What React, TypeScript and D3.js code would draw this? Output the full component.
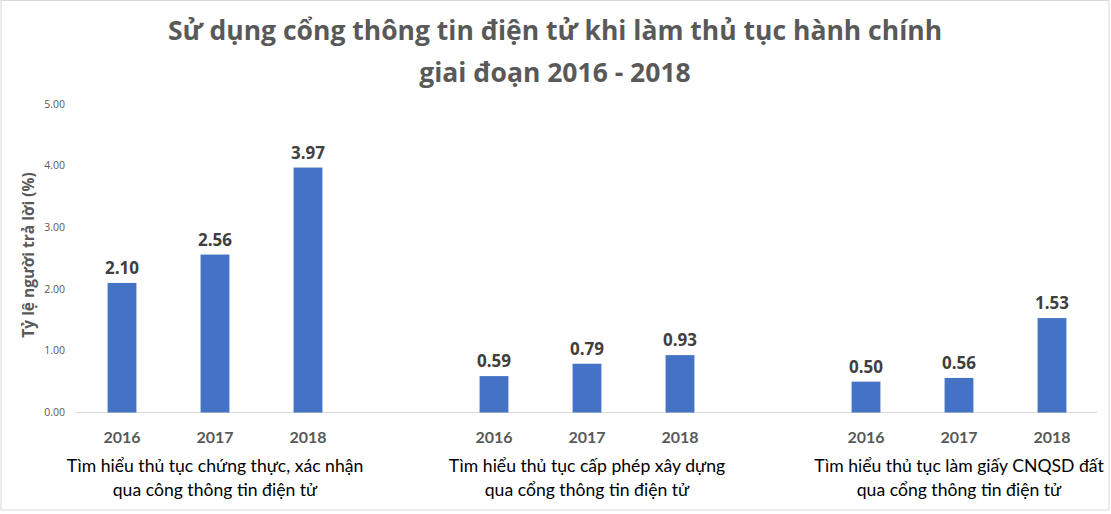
import React from "react";
import * as d3 from "d3";

const titleLines = [
  "Sử dụng cổng thông tin điện tử khi làm thủ tục hành chính",
  "giai đoạn 2016 - 2018",
];
const years = ["2016", "2017", "2018"];
const groupLabels = [
  ["Tìm hiểu thủ tục chứng thực, xác nhận", "qua công thông tin điện tử"],
  ["Tìm hiểu thủ tục cấp phép xây dựng", "qua cổng thông tin điện tử"],
  ["Tìm hiểu thủ tục làm giấy CNQSD đất", "qua cổng thông tin điện tử"],
];
const group1Values = [2.1, 2.56, 3.97];
const group2Values = [0.59, 0.79, 0.93];
const group3Values = [0.5, 0.56, 1.53];
const yTicks = [0, 1, 2, 3, 4, 5];
const yAxisTitle = "Tỷ lệ người trả lời (%)";

const W = 1111;
const H = 514;

export default function App() {
  const groups = [group1Values, group2Values, group3Values];
  const slots: string[] = [];
  groups.forEach((_, gi) => {
    years.forEach((yr) => slots.push(`g${gi}-${yr}`));
    if (gi < groups.length - 1) slots.push(`gap${gi}`);
  });

  const x = d3
    .scaleBand<string>()
    .domain(slots)
    .range([75.5, 1098.5])
    .paddingInner(0.69)
    .paddingOuter(0.345);
  const y = d3.scaleLinear().domain([0, 5]).range([412.5, 104]);

  const bars = groups.flatMap((vals, gi) =>
    vals.map((v, i) => ({ key: `g${gi}-${years[i]}`, year: years[i], v }))
  );

  const bw = x.bandwidth();
  const font = "'Open Sans', 'DejaVu Sans', sans-serif";
  const labelFont = "Lato, 'Open Sans', sans-serif";

  return (
    <svg
      width={W}
      height={H}
      style={{ position: "absolute", left: 0, top: 0, background: "#fff" }}
    >
      <rect x={1} y={0.5} width={1108} height={509.5} fill="#fff" stroke="#d9d9d9" />
      {titleLines.map((t, i) => (
        <text
          key={i}
          x={555}
          y={40 + i * 42}
          textAnchor="middle"
          fontFamily={font}
          fontWeight={700}
          fontSize={26.5}
          fill="#595959"
        >
          {t}
        </text>
      ))}
      {yTicks.map((t) => (
        <text
          key={t}
          x={65}
          y={y(t)}
          dy="0.35em"
          textAnchor="end"
          fontFamily={font}
          fontSize={10.5}
          fill="#595959"
        >
          {t.toFixed(2)}
        </text>
      ))}
      <text
        transform={`translate(34, 255) rotate(-90)`}
        textAnchor="middle"
        fontFamily={font}
        fontWeight={700}
        fontSize={15.5}
        fill="#595959"
      >
        {yAxisTitle}
      </text>
      <line x1={76} x2={1097} y1={y(0)} y2={y(0)} stroke="#d9d9d9" strokeWidth={1} />
      {bars.map((b) => (
        <g key={b.key}>
          <rect
            x={x(b.key)!}
            y={y(b.v)}
            width={bw}
            height={y(0) - y(b.v)}
            fill="#4472C4"
          />
          <text
            x={x(b.key)! + bw / 2}
            y={y(b.v) - 9}
            textAnchor="middle"
            fontFamily={font}
            fontWeight={700}
            fontSize={17}
            fill="#404040"
          >
            {b.v.toFixed(2)}
          </text>
          <text
            x={x(b.key)! + bw / 2}
            y={443}
            textAnchor="middle"
            fontFamily={labelFont}
            fontWeight={700}
            fontSize={16}
            fill="#595959"
          >
            {b.year}
          </text>
        </g>
      ))}
      {groupLabels.map((lines, gi) => {
        const cx = x(`g${gi}-${years[1]}`)! + bw / 2;
        return lines.map((ln, li) => (
          <text
            key={`${gi}-${li}`}
            x={cx}
            y={472 + li * 24}
            textAnchor="middle"
            fontFamily={labelFont}
            fontSize={17.6}
            fill="#000"
          >
            {ln}
          </text>
        ));
      })}
    </svg>
  );
}
